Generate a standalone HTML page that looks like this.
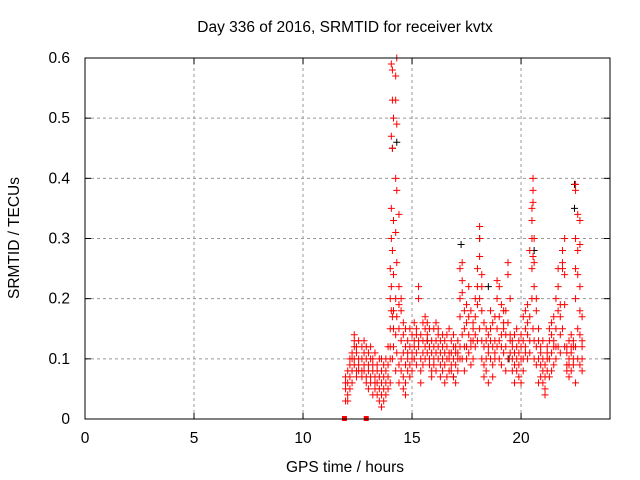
<!DOCTYPE html>
<html><head><meta charset="utf-8"><style>
body{margin:0;background:#fff}
svg{display:block;font-family:"Liberation Sans",sans-serif;font-size:15.5px}
</style></head><body>
<svg id="chart" width="640" height="480">
<text x="345" y="32" text-anchor="middle">Day 336 of 2016, SRMTID for receiver kvtx</text>
<text x="345" y="472" text-anchor="middle">GPS time / hours</text>
<text transform="translate(19,238) rotate(-90)" text-anchor="middle">SRMTID / TECUs</text>
<g id="grid"></g><g id="marks"></g><g id="axes"></g>
</svg>
<script>
const xTicks=[0,5,10,15,20];
const yTicks=[0,0.1,0.2,0.3,0.4,0.5,0.6];
const yTickLabels=["0","0.1","0.2","0.3","0.4","0.5","0.6"];
const hours=[11.95,12.05,12.15,12.25,12.35,12.45,12.55,12.7,12.8,12.9,13.0,13.1,13.2,13.3,13.4,13.5,13.6,13.7,13.8,13.9,14.0,14.05,14.1,14.15,14.25,14.3,14.4,14.5,14.6,14.7,14.8,14.9,15.0,15.1,15.2,15.3,15.4,15.5,15.6,15.7,15.8,15.9,16.0,16.1,16.2,16.3,16.4,16.5,16.6,16.7,16.8,16.9,17.0,17.1,17.2,17.3,17.4,17.5,17.6,17.7,17.8,17.9,18.0,18.1,18.2,18.3,18.4,18.5,18.6,18.7,18.8,18.9,19.0,19.1,19.2,19.3,19.4,19.5,19.6,19.7,19.8,19.9,20.0,20.1,20.2,20.3,20.4,20.5,20.55,20.6,20.7,20.8,20.9,21.0,21.1,21.2,21.3,21.4,21.5,21.6,21.7,21.8,21.9,22.0,22.1,22.2,22.3,22.4,22.5,22.6,22.7,22.8];
const tecu=[[0.07,0.05,0.03,0.06],[0.04,0.08,0.06,0.03],[0.07,0.05,0.09,0.1],[0.06,0.08,0.1,0.11],[0.14,0.1,0.13,0.09,0.12],[0.12,0.07,0.11,0.08],[0.08,0.1,0.13,0.09],[0.12,0.08,0.07,0.1],[0.09,0.11,0.08,0.13],[0.1,0.12,0.07,0.06],[0.08,0.05,0.09,0.11],[0.1,0.07,0.12,0.06],[0.08,0.04,0.1,0.09],[0.11,0.06,0.07,0.05],[0.09,0.04,0.08,0.06],[0.07,0.1,0.05,0.03],[0.06,0.08,0.04,0.1,0.02],[0.05,0.07,0.03,0.09],[0.08,0.06,0.04,0.1],[0.12,0.09,0.05,0.07],[0.06,0.1,0.15,0.2,0.25,0.12],[0.3,0.35,0.47,0.59,0.22,0.18],[0.58,0.53,0.45,0.28,0.17,0.1],[0.5,0.33,0.24,0.18,0.12,0.15],[0.57,0.53,0.4,0.31,0.2,0.14,0.08],[0.6,0.49,0.38,0.26,0.17,0.11],[0.34,0.22,0.15,0.09,0.06,0.19],[0.13,0.18,0.2,0.08,0.1],[0.16,0.11,0.07,0.05,0.14],[0.09,0.12,0.06,0.15,0.04],[0.1,0.13,0.08,0.11],[0.12,0.09,0.15,0.07],[0.11,0.14,0.1,0.08],[0.13,0.1,0.16,0.12],[0.15,0.11,0.09,0.14],[0.13,0.22,0.2,0.12],[0.08,0.1,0.14,0.06],[0.11,0.16,0.13,0.09],[0.12,0.17,0.15,0.1],[0.14,0.11,0.16,0.13],[0.09,0.12,0.15,0.1],[0.07,0.11,0.08,0.13],[0.1,0.15,0.12,0.09],[0.13,0.16,0.11,0.08],[0.14,0.1,0.12,0.15],[0.09,0.13,0.11,0.07],[0.12,0.1,0.14,0.08],[0.11,0.09,0.13,0.06],[0.1,0.12,0.07,0.14],[0.08,0.11,0.15,0.1],[0.13,0.09,0.11,0.08],[0.1,0.14,0.12,0.07],[0.12,0.09,0.11,0.06],[0.1,0.13,0.08,0.11],[0.17,0.2,0.25,0.12,0.1],[0.21,0.26,0.23,0.14,0.1],[0.18,0.15,0.12,0.08],[0.16,0.12,0.19,0.1],[0.14,0.17,0.22,0.11],[0.13,0.18,0.09,0.12],[0.15,0.13,0.1,0.16],[0.12,0.14,0.2,0.17],[0.22,0.25,0.19,0.13],[0.32,0.3,0.27,0.2,0.15],[0.22,0.24,0.18,0.13,0.1],[0.16,0.12,0.09,0.07],[0.13,0.15,0.1,0.08],[0.11,0.14,0.06,0.12],[0.13,0.18,0.1,0.15],[0.12,0.09,0.16,0.07],[0.1,0.13,0.17,0.11],[0.2,0.23,0.15,0.12],[0.22,0.17,0.13,0.1],[0.19,0.14,0.09,0.12],[0.15,0.11,0.16,0.18],[0.18,0.12,0.08,0.14],[0.26,0.24,0.16,0.1],[0.2,0.14,0.11,0.13],[0.1,0.13,0.08,0.12],[0.06,0.09,0.11,0.14],[0.12,0.15,0.1,0.08],[0.09,0.11,0.13,0.07],[0.1,0.14,0.06,0.12],[0.13,0.17,0.1,0.08],[0.12,0.15,0.11,0.18],[0.14,0.1,0.19,0.16],[0.11,0.17,0.28,0.13],[0.25,0.3,0.35,0.33,0.2],[0.38,0.4,0.36,0.27,0.15],[0.3,0.22,0.13,0.1,0.26],[0.18,0.12,0.09,0.2],[0.1,0.13,0.06,0.15],[0.12,0.09,0.11,0.07],[0.1,0.08,0.06,0.13],[0.05,0.07,0.09,0.04],[0.11,0.08,0.12,0.1],[0.13,0.1,0.07,0.15],[0.11,0.14,0.08,0.16],[0.17,0.12,0.09,0.13],[0.2,0.15,0.1,0.12],[0.22,0.25,0.18,0.12],[0.19,0.14,0.17,0.11],[0.26,0.28,0.25,0.15],[0.3,0.24,0.19,0.12],[0.09,0.12,0.08,0.11],[0.1,0.13,0.09,0.07],[0.12,0.08,0.11,0.14],[0.1,0.13,0.09,0.12],[0.39,0.38,0.3,0.25,0.2,0.12,0.06],[0.34,0.28,0.24,0.15,0.1],[0.33,0.29,0.22,0.18,0.14,0.09],[0.17,0.13,0.1,0.08,0.12]];
const blackHours=[14.1,14.3,17.25,18.1,20.6,22.45,22.45,18.5,19.45,15.7,16.9];
const blackTecu=[0.45,0.46,0.29,0.3,0.28,0.39,0.35,0.22,0.1,0.13,0.07];
const gapHours=[11.9,12.9];
const gapTecu=[0,0];

const X0=85,X1=610,Y0=419,Y1=58,XMAX=24.08,YMAX=0.6;
const sx=v=>X0+(X1-X0)*v/XMAX;
const sy=v=>Y0-(Y0-Y1)*v/YMAX;
const NS="http://www.w3.org/2000/svg";
function mk(tag,at,parent){const e=document.createElementNS(NS,tag);for(const k in at)e.setAttribute(k,at[k]);parent.appendChild(e);return e;}
const grid=document.getElementById('grid'),marks=document.getElementById('marks'),axes=document.getElementById('axes');
xTicks.forEach(t=>{
  const x=sx(t);
  if(t>0){const g=mk('line',{x1:x,x2:x,y1:Y0,y2:Y1,stroke:'#999','stroke-dasharray':'3,3'},grid);
  
  }
  const a=mk('line',{x1:x,x2:x,y1:Y0,y2:Y0-6,stroke:'#000'},axes);
  
  
  const b=mk('line',{x1:x,x2:x,y1:Y1,y2:Y1+6,stroke:'#000'},axes);
  
  
  const l=mk('text',{x:x,y:443,'text-anchor':'middle'},axes);l.textContent=String(t);
  
  
});
yTicks.forEach((t,i)=>{
  const y=sy(t);
  if(t>0&&t<YMAX){const g=mk('line',{x1:X0,x2:X1,y1:y,y2:y,stroke:'#999','stroke-dasharray':'3,3'},grid);
  
  }
  const a=mk('line',{x1:X0,x2:X0+6,y1:y,y2:y,stroke:'#000'},axes);
  
  
  const b=mk('line',{x1:X1,x2:X1-6,y1:y,y2:y,stroke:'#000'},axes);
  
  
  const l=mk('text',{x:70,y:y+5,'text-anchor':'end'},axes);l.textContent=yTickLabels[i];
  
  
});
const frame=mk('rect',{x:X0,y:Y1,width:X1-X0,height:Y0-Y1,fill:'none',stroke:'#000'},axes);


function cross(t,v,col,name){
  const x=sx(t),y=sy(v);
  const p=mk('path',{d:`M${x-3.5},${y}H${x+3.5}M${x},${y-3.5}V${y+3.5}`,stroke:col,'stroke-width':1,fill:'none'},marks);
  
  
}
blackHours.forEach((t,i)=>cross(t,blackTecu[i],'#000','black-point'));
hours.forEach((t,i)=>tecu[i].forEach(v=>cross(t,v,'#f00','red-point')));
gapHours.forEach((t,i)=>{
  const r=mk('rect',{x:sx(t)-2.5,y:sy(gapTecu[i])-3,width:5,height:5,fill:'#f00'},marks);
  
  
});
</script>
</body></html>
